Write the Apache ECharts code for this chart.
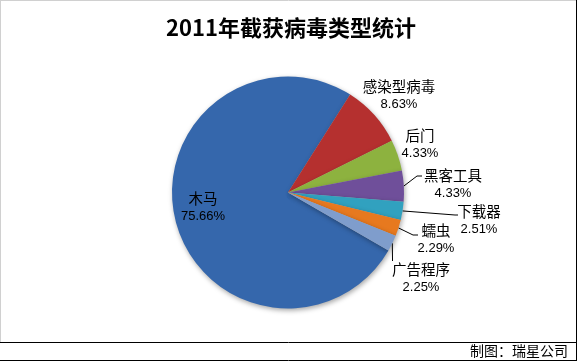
<!DOCTYPE html>
<html>
<head>
<meta charset="utf-8">
<script src="https://cdn.jsdelivr.net/npm/echarts@6/dist/echarts.min.js"></script>
<style>
html,body{margin:0;padding:0;background:#fff;}
#main{width:577px;height:361px;}
</style>
</head>
<body>
<div id="main"></div>
<script>
// ---- data ----
const categories = ['木马', '感染型病毒', '后门', '黑客工具', '下载器', '蠕虫', '广告程序'];
const percents = [75.66, 8.63, 4.33, 4.33, 2.51, 2.29, 2.25];
const colors = ['#3567AC', '#B5302F', '#8DB23F', '#6F4F9A', '#31A1BF', '#E7791F', '#7F9DCC'];
const titleText = '2011年截获病毒类型统计';
const footerText = '制图：瑞星公司';

// ---- layout constants ----
const CX = 288, CY = 192.5, R = 116;
const START = -30; // echarts startAngle (deg, ccw from 3 o'clock)
// label centres (layout, not data)
const labelCenter = [[203, 207], [399, 95], [420, 144], [453, 184], [479, 220], [436, 239], [421, 278]];
// label line bend/end points; null = no line
const lineTail = [null, null, null, [[417, 176], [422, 176]], [[455, 215], [458, 215]], [[413, 235], [418, 235]], [[392.5, 260], [392.5, 261]]];

const total = percents.reduce((a, b) => a + b, 0);
function edgePoint(idx) {
  let cum = 0;
  for (let i = 0; i < idx; i++) cum += percents[i];
  const midFrac = (cum + percents[idx] / 2) / total;
  const ang = (START - midFrac * 360) * Math.PI / 180; // clockwise
  return [CX + R * Math.cos(ang), CY - R * Math.sin(ang)];
}

const chart = echarts.init(document.getElementById('main'), null, {renderer: 'canvas'});
const data = categories.map((c, i) => ({
  name: c,
  value: percents[i],
  itemStyle: {color: colors[i]},
  labelLine: {show: lineTail[i] !== null}
}));

chart.setOption({
  animation: false,
  backgroundColor: '#ffffff',
  title: {
    text: titleText,
    left: 286,
    textAlign: 'center',
    top: 12,
    textStyle: {fontFamily: 'Noto Sans CJK SC', fontWeight: 'bold', fontSize: 22, color: '#000'}
  },
  graphic: [
    {type: 'line', shape: {x1: 0.5, y1: 0, x2: 0.5, y2: 342}, style: {stroke: '#d0d0d0', lineWidth: 1}},
    {type: 'line', shape: {x1: 0, y1: 0.5, x2: 577, y2: 0.5}, style: {stroke: '#d0d0d0', lineWidth: 1}},
    {type: 'line', shape: {x1: 576.5, y1: 0, x2: 576.5, y2: 361}, style: {stroke: '#000', lineWidth: 1}},
    {type: 'line', shape: {x1: 0, y1: 342.5, x2: 577, y2: 342.5}, style: {stroke: '#000', lineWidth: 1}},
    {type: 'line', shape: {x1: 0, y1: 360.5, x2: 577, y2: 360.5}, style: {stroke: '#000', lineWidth: 1}},
    {type: 'text', right: 9, top: 344, style: {text: footerText, fontFamily: 'Noto Sans CJK SC', fontSize: 14, fill: '#000'}}
  ],
  series: [{
    type: 'pie',
    center: [CX, CY],
    radius: R,
    startAngle: START,
    clockwise: true,
    avoidLabelOverlap: false,
    data: data,
    itemStyle: {
      borderWidth: 0,
      shadowBlur: 5,
      shadowColor: 'rgba(0,0,0,0.35)',
      shadowOffsetX: 1,
      shadowOffsetY: 2
    },
    label: {
      show: true,
      position: 'outside',
      formatter: p => '{n|' + p.name + '}\n{p|' + p.value.toFixed(2) + '%}',
      rich: {
        n: {fontFamily: 'Noto Sans CJK SC', fontSize: 14.5, color: '#000', lineHeight: 19, align: 'center'},
        p: {fontFamily: 'Liberation Sans', fontSize: 13, color: '#000', lineHeight: 18, align: 'center'}
      }
    },
    labelLine: {lineStyle: {color: '#000', width: 1}, smooth: false},
    labelLayout: function (params) {
      const i = params.dataIndex;
      const res = {x: labelCenter[i][0], y: labelCenter[i][1], align: 'center', verticalAlign: 'middle'};
      if (lineTail[i]) {
        res.labelLinePoints = [edgePoint(i), lineTail[i][0], lineTail[i][1]];
      }
      return res;
    }
  }]
});
</script>
</body>
</html>
